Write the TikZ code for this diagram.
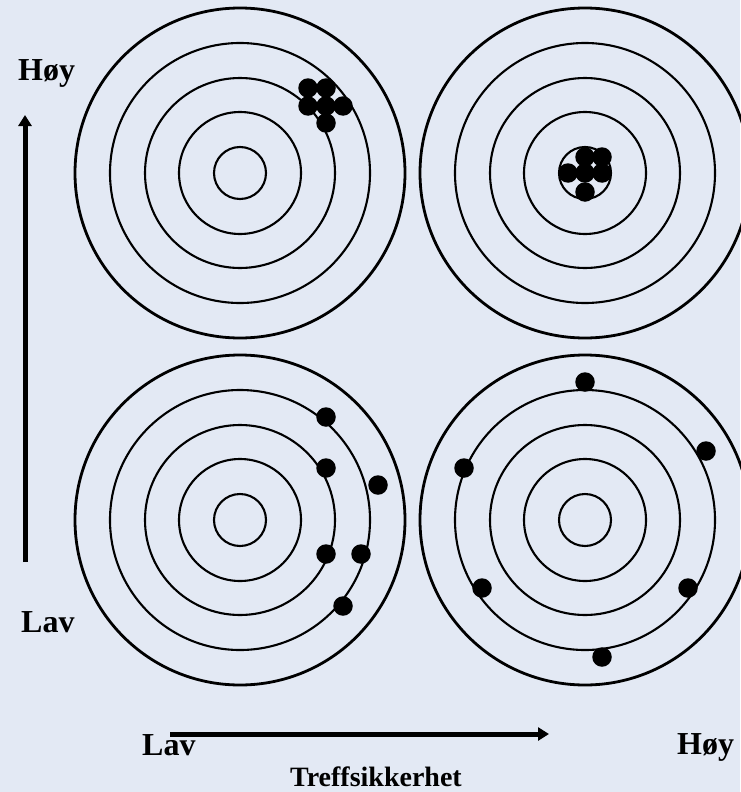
\documentclass[tikz,border=0pt]{standalone}
\usepackage{fontspec}
\setmainfont{Liberation Serif}
\usetikzlibrary{arrows.meta}
\definecolor{bgblue}{RGB}{227,233,244}
\tikzset{
  ring/.style={draw=black, line width=2.1pt},
  outerring/.style={draw=black, line width=2.8pt},
  hit/.style={circle, fill=black, minimum size=19.5pt, inner sep=0pt},
  axis/.style={draw=black, line width=5pt, -{Triangle[width=13pt,length=11pt]}},
  lbl/.style={inner sep=0pt, font=\bfseries\fontsize{32}{38}\selectfont},
  ttl/.style={inner sep=0pt, font=\bfseries\fontsize{28}{34}\selectfont}
}
\begin{document}
\begin{tikzpicture}[x=1pt,y=-1pt]
\fill[bgblue] (0,0) rectangle (740,792);
\useasboundingbox (0,0) rectangle (740,792);
% targets
\foreach \cx/\cy/\nm in {240/173/tl, 585/173/tr, 240/520/bl, 585/520/br}{
  \coordinate (\nm) at (\cx,\cy);
  \foreach \r in {26,61,95,130}{
    \draw[ring] (\nm) circle[radius=\r];
  }
  \draw[outerring] (\nm) circle[radius=165];
}
% top-left hits
\foreach \px/\py [count=\i] in {308/88, 326/88, 308/106, 326/106, 343/106, 326/123}{
  \node[hit] (tlh\i) at (\px,\py) {};
}
% top-right hits
\foreach \px/\py [count=\i] in {585/157, 602/157, 568/173, 585/173, 602/173, 585/192}{
  \node[hit] (trh\i) at (\px,\py) {};
}
% bottom-left hits
\foreach \px/\py [count=\i] in {326/417, 326/468, 378/485, 326/554, 361/554, 343/606}{
  \node[hit] (blh\i) at (\px,\py) {};
}
% bottom-right hits
\foreach \px/\py [count=\i] in {585/382, 706/451, 464/468, 482/588, 688/588, 602/657}{
  \node[hit] (brh\i) at (\px,\py) {};
}
% axes
\coordinate (vs) at (25,562);
\coordinate (ve) at (25,115);
\draw[axis] (vs) -- (ve);
\coordinate (hs) at (170,734);
\coordinate (he) at (549,734);
\draw[axis] (hs) -- (he);
% labels
\node[lbl, anchor=base west] (yhigh) at (18,81) {Høy};
\node[lbl, anchor=base west] (ylow) at (21,632) {Lav};
\node[lbl, anchor=base west] (xlow) at (142,755) {Lav};
\node[lbl, anchor=base west] (xhigh) at (677,754) {Høy};
\node[ttl, anchor=base] (xtitle) at (376,786) {Treffsikkerhet};
\end{tikzpicture}
\end{document}
